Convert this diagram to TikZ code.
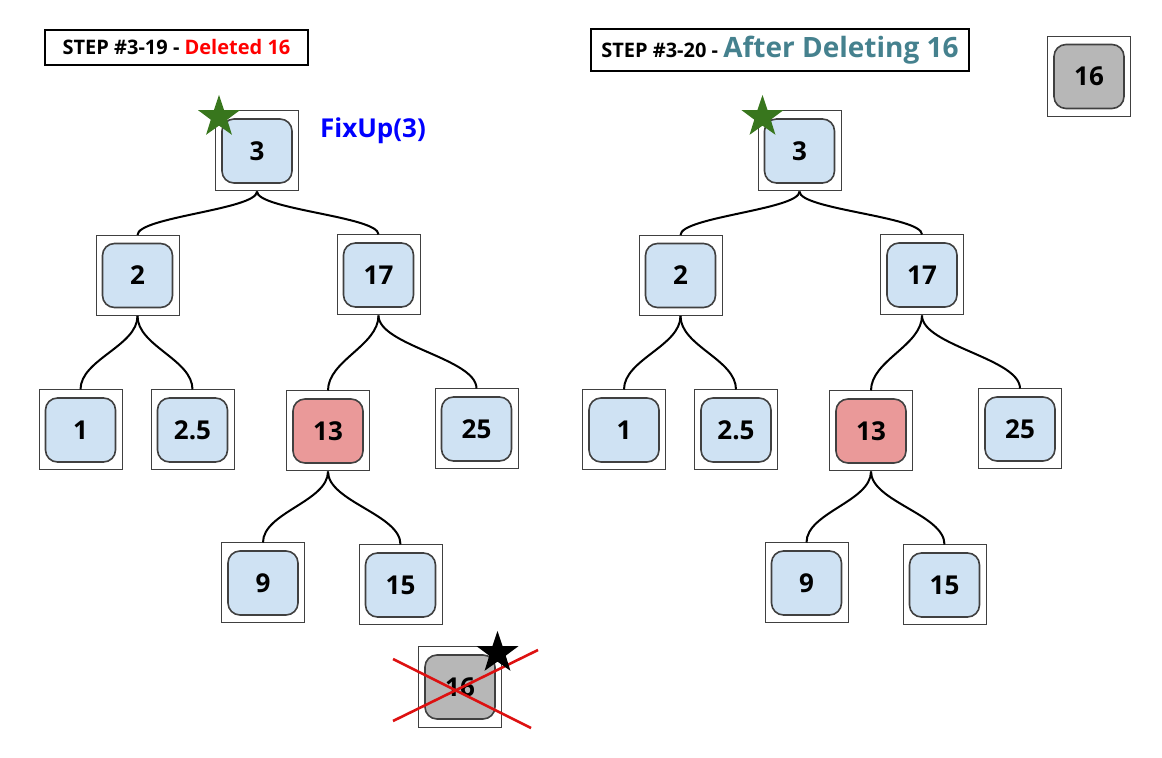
\documentclass[tikz,border=0pt]{standalone}
\usepackage{fontspec}
\setmainfont{Open Sans}
\usepackage{xcolor}
\usepackage{tikz}
\usetikzlibrary{positioning,shapes.geometric}

\definecolor{keyblue}{HTML}{CFE2F3}
\definecolor{keyred}{HTML}{EA9999}
\definecolor{keygray}{HTML}{B7B7B7}
\definecolor{stargreen}{HTML}{38761D}
\definecolor{afterteal}{HTML}{45818E}
\definecolor{crossred}{HTML}{DD1111}

\begin{document}
\begin{tikzpicture}[x=0.5pt, y=0.5pt,
  key/.style={draw=black!75, line width=0.5pt, minimum width=41.5pt, minimum height=40pt, inner sep=0pt,
    font=\fontsize{13}{15}\selectfont\bfseries,
    path picture={\draw[fill=#1, line width=0.8pt, rounded corners=6pt]
      ([xshift=3.25pt,yshift=4pt]path picture bounding box.south west) rectangle
      ([xshift=-3.25pt,yshift=-4pt]path picture bounding box.north east);}},
  link/.style={line width=1pt},
  title/.style={draw, line width=0.8pt, inner sep=2pt, font=\fontsize{10}{12}\selectfont\bfseries},
  rootstar/.style={star, star points=5, star point ratio=2.55, fill=#1, inner sep=0pt, minimum size=22pt},
  cross/.style={draw=crossred, line width=1.3pt}]
\useasboundingbox (0,0) rectangle (1162,-758);

% titles
\node (titleA) [title, minimum width=131.5pt, minimum height=17.5pt] at (176.5,-47.5) {STEP \#3-19 - \textcolor{red}{Deleted 16}};
\node (titleB) [title, minimum width=189pt, minimum height=21pt] at (780,-50) {STEP \#3-20 - \textcolor{afterteal}{\fontsize{14}{16}\selectfont After Deleting 16}};

% left tree
\node (L3) [key=keyblue] at (257,-151) {3};
\node (L2) [key=keyblue] at (137.5,-275.5) {2};
\node (L17) [key=keyblue] at (378.5,-275) {17};
\node (L1) [key=keyblue] at (80.5,-430) {1};
\node (L2p5) [key=keyblue] at (192.5,-430) {2.5};
\node (L13) [key=keyred] at (328,-431) {13};
\node (L25) [key=keyblue] at (476.5,-429) {25};
\node (L9) [key=keyblue] at (263,-583) {9};
\node (L15) [key=keyblue] at (400.5,-585) {15};
\node (D16) [key=keygray] at (460,-687) {16};
\node (fixup) [right=7pt of L3, yshift=10pt, text=blue, font=\fontsize{13}{15}\selectfont\bfseries] {FixUp(3)};
\draw[link] (L3.south) .. controls +(0,-18) and +(0,18) .. (L2.north);
\draw[link] (L3.south) .. controls +(0,-18) and +(0,18) .. (L17.north);
\draw[link] (L2.south) .. controls +(0,-30) and +(0,30) .. (L1.north);
\draw[link] (L2.south) .. controls +(0,-30) and +(0,30) .. (L2p5.north);
\draw[link] (L17.south) .. controls +(0,-30) and +(0,30) .. (L13.north);
\draw[link] (L17.south) .. controls +(0,-30) and +(0,30) .. (L25.north);
\draw[link] (L13.south) .. controls +(0,-30) and +(0,30) .. (L9.north);
\draw[link] (L13.south) .. controls +(0,-30) and +(0,30) .. (L15.north);
\node (starA) [rootstar=stargreen] at (219,-117) {};
\draw[cross] (393,-659) -- (531,-728);
\draw[cross] (393,-721) -- (538,-650);
\node (starD) [rootstar=black] at (497.5,-653) {};

% right tree
\node (R3) [key=keyblue] at (799.5,-151) {3};
\node (R2) [key=keyblue] at (680.5,-275.5) {2};
\node (R17) [key=keyblue] at (922,-275) {17};
\node (R1) [key=keyblue] at (624,-430) {1};
\node (R2p5) [key=keyblue] at (736,-430) {2.5};
\node (R13) [key=keyred] at (871,-431) {13};
\node (R25) [key=keyblue] at (1020,-429) {25};
\node (R9) [key=keyblue] at (806.5,-583) {9};
\node (R15) [key=keyblue] at (944.5,-585) {15};
\node (spare) [key=keygray] at (1089,-76.5) {16};
\draw[link] (R3.south) .. controls +(0,-18) and +(0,18) .. (R2.north);
\draw[link] (R3.south) .. controls +(0,-18) and +(0,18) .. (R17.north);
\draw[link] (R2.south) .. controls +(0,-30) and +(0,30) .. (R1.north);
\draw[link] (R2.south) .. controls +(0,-30) and +(0,30) .. (R2p5.north);
\draw[link] (R17.south) .. controls +(0,-30) and +(0,30) .. (R13.north);
\draw[link] (R17.south) .. controls +(0,-30) and +(0,30) .. (R25.north);
\draw[link] (R13.south) .. controls +(0,-30) and +(0,30) .. (R9.north);
\draw[link] (R13.south) .. controls +(0,-30) and +(0,30) .. (R15.north);
\node (starB) [rootstar=stargreen] at (762.5,-117) {};
\end{tikzpicture}
\end{document}
